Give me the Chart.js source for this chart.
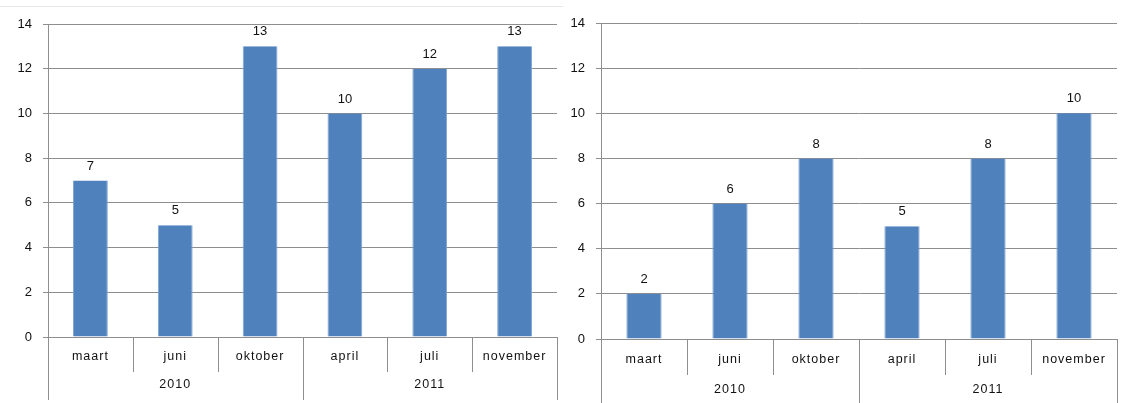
<!DOCTYPE html>
<html>
<head>
<meta charset="utf-8">
<script src="https://cdn.jsdelivr.net/npm/chart.js@4/dist/chart.umd.min.js"></script>
<style>
  body { margin: 0; background: #fff; width: 1135px; height: 403px; overflow: hidden; position: relative; }
  .wrap { position: absolute; top: 0; height: 403px; }
  #w1 { left: 0; width: 565px; }
  #w2 { left: 560px; width: 575px; }
  .topline { position: absolute; left: 0; top: 6px; width: 563px; height: 1px; background: #e8e8e8; }
</style>
</head>
<body>
<div class="topline"></div>
<div class="wrap" id="w1"><canvas id="c1" width="565" height="403"></canvas></div>
<div class="wrap" id="w2"><canvas id="c2" width="575" height="403"></canvas></div>
<script>
// data
const months        = ['maart', 'juni', 'oktober', 'april', 'juli', 'november'];
const years         = ['2010', '2011'];
const monthsPerYear = [3, 3];
const valuesLeft    = [7, 5, 13, 10, 12, 13];
const valuesRight   = [2, 6, 8, 5, 8, 10];
const yMin = 0, yMax = 14, yStep = 2;

const FONT = "'Liberation Sans', Arial, sans-serif";
const BAR  = '#4F81BD';
const GRID = '#8e8e8e';

// value labels on top of each bar
const valueLabels = {
  id: 'valueLabels',
  afterDatasetsDraw(chart) {
    const ctx = chart.ctx;
    const ds  = chart.data.datasets[0];
    ctx.save();
    ctx.font = '13px ' + FONT;
    ctx.fillStyle = '#111';
    ctx.textAlign = 'center';
    ctx.textBaseline = 'bottom';
    chart.getDatasetMeta(0).data.forEach((bar, i) => {
      ctx.fillText(ds.data[i], bar.x, bar.y - 8);
    });
    ctx.restore();
  }
};

// two-level category axis (month row + year row) with separators
const groupedAxis = {
  id: 'groupedAxis',
  afterDraw(chart, args, opts) {
    const ctx = chart.ctx;
    const xs  = chart.scales.x;
    const a   = chart.chartArea;
    const n   = months.length;
    const edge = i => {
      if (i === 0) return a.left;
      if (i === n) return a.right;
      return (xs.getPixelForValue(i - 1) + xs.getPixelForValue(i)) / 2;
    };
    ctx.save();
    ctx.strokeStyle = GRID;
    ctx.lineWidth = 1;
    // year boundaries
    const bounds = [0];
    monthsPerYear.forEach(c => bounds.push(bounds[bounds.length - 1] + c));
    for (let i = 0; i <= n; i++) {
      const x = Math.round(edge(i)) + 0.5;
      const long = bounds.includes(i);
      ctx.beginPath();
      ctx.moveTo(x, a.bottom);
      ctx.lineTo(x, a.bottom + (long ? opts.longLen : opts.shortLen));
      ctx.stroke();
    }
    ctx.fillStyle = '#111';
    ctx.font = '12.5px ' + FONT;
    ctx.letterSpacing = '1px';
    ctx.textAlign = 'center';
    ctx.textBaseline = 'middle';
    months.forEach((m, i) => ctx.fillText(m, xs.getPixelForValue(i), a.bottom + opts.monthY));
    years.forEach((y, j) => {
      const x = (edge(bounds[j]) + edge(bounds[j + 1])) / 2;
      ctx.fillText(y, x, a.bottom + opts.yearY);
    });
    ctx.restore();
  }
};

function makeChart(id, values, geo) {
  return new Chart(document.getElementById(id), {
    type: 'bar',
    data: {
      labels: months,
      datasets: [{
        data: values,
        backgroundColor: BAR,
        borderColor: '#7fa4d2',
        borderWidth: { top: 0, left: 1, right: 1, bottom: 0 },
        barPercentage: 0.41,
        categoryPercentage: 1,
      }],
    },
    options: {
      responsive: false,
      animation: false,
      layout: { padding: { top: geo.top, right: geo.right, left: 0, bottom: 0 } },
      plugins: {
        legend: { display: false },
        tooltip: { enabled: false },
        groupedAxis: geo.axis,
      },
      scales: {
        x: {
          ticks: { display: false },
          grid: { display: false, drawTicks: false },
          border: { display: true, color: GRID },
          afterFit: s => { s.height = geo.xHeight; },
        },
        y: {
          min: yMin,
          max: yMax,
          ticks: { stepSize: yStep, padding: geo.tickPad, color: '#111', font: { family: FONT, size: 13 } },
          grid: { color: GRID, tickLength: 5, tickColor: GRID },
          border: { display: true, color: GRID },
          afterFit: s => { s.width = geo.yWidth; },
        },
      },
    },
    plugins: [valueLabels, groupedAxis],
  });
}

makeChart('c1', valuesLeft, {
  top: 24, right: 8, yWidth: 48, xHeight: 403 - 337, tickPad: 11,
  axis: { monthY: 20, yearY: 48, shortLen: 35, longLen: 63 },
});

makeChart('c2', valuesRight, {
  top: 23, right: 18, yWidth: 41, xHeight: 403 - 339, tickPad: 11,
  axis: { monthY: 21, yearY: 51, shortLen: 36, longLen: 64 },
});
</script>
</body>
</html>
